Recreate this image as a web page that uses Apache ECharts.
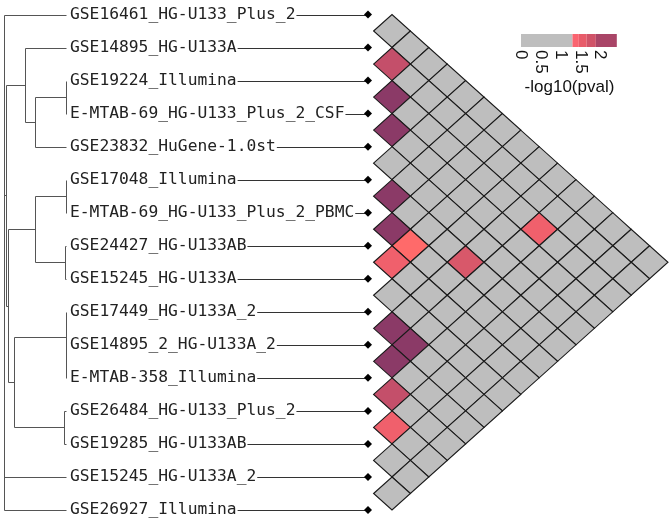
<!DOCTYPE html>
<html><head><meta charset="utf-8">
<script src="https://cdn.jsdelivr.net/npm/echarts@6/dist/echarts.min.js"></script>
<style>html,body{margin:0;padding:0;background:#fff}#c{width:672px;height:522px}</style>
</head><body><div id="c"></div>
<script>
// ---------------- data ----------------
const labels = [
  'GSE16461_HG-U133_Plus_2','GSE14895_HG-U133A','GSE19224_Illumina',
  'E-MTAB-69_HG-U133_Plus_2_CSF','GSE23832_HuGene-1.0st','GSE17048_Illumina',
  'E-MTAB-69_HG-U133_Plus_2_PBMC','GSE24427_HG-U133AB','GSE15245_HG-U133A',
  'GSE17449_HG-U133A_2','GSE14895_2_HG-U133A_2','E-MTAB-358_Illumina',
  'GSE26484_HG-U133_Plus_2','GSE19285_HG-U133AB','GSE15245_HG-U133A_2',
  'GSE26927_Illumina'
];
// dendrogram merges: [childA, childB, height]; leaves 1..16, internal nodes 'n'+index
const merges = [
  [3, 4, 0.0],          // n0
  ['n0', 5, 0.5],       // n1
  [2, 'n1', 0.66],      // n2
  [6, 7, 0.0],          // n3
  [8, 9, 0.02],         // n4
  ['n3', 'n4', 0.5],    // n5
  [11, 12, 0.0],        // n6
  [10, 'n6', 0.0],      // n7
  [13, 14, 0.03],       // n8
  ['n7', 'n8', 0.84],   // n9
  ['n5', 'n9', 0.935],  // n10
  ['n2', 'n10', 0.968]  // n11
];
const rootChildren = [1, 'n11', 15, 16];
const rootHeight = 1.0;

// -log10(pval), upper triangle: row i holds pairs (i, j) for j = i+1 .. 16
const pvalRows = [
  [0.5,0.5,0.5,0.5,0.5,0.5,0.5,0.5,0.5,0.5,0.5,0.5,0.5,0.5,0.5],
  [1.8,0.5,0.5,0.5,0.5,0.5,0.5,0.5,0.5,0.5,0.5,0.5,0.5,0.5],
  [2.3,0.5,0.5,0.5,0.5,0.5,0.5,0.5,1.4,0.5,0.5,0.5,0.5],
  [2.3,0.5,0.5,0.5,0.5,0.5,0.5,0.5,0.5,0.5,0.5,0.5],
  [0.5,0.5,0.5,0.5,0.5,0.5,0.5,0.5,0.5,0.5,0.5],
  [2.3,0.5,0.5,0.5,1.65,0.5,0.5,0.5,0.5,0.5],
  [2.3,1.35,0.5,0.5,0.5,0.5,0.5,0.5,0.5],
  [1.45,0.5,0.5,0.5,0.5,0.5,0.5,0.5],
  [0.5,0.5,0.5,0.5,0.5,0.5,0.5],
  [2.3,2.3,0.5,0.5,0.5,0.5],
  [2.3,0.5,0.5,0.5,0.5],
  [1.8,0.5,0.5,0.5],
  [1.45,0.5,0.5],
  [0.5,0.5],
  [0.5]
];
const cellBreaks = [1.3, 1.4, 1.5, 1.7, 1.9, 2.1];
const cellColors = ['#bebebe','#ff6a6a','#f0606c','#d8586a','#c44f6a','#a84468','#8b3a67'];

const legendBreaks = [0, 1.3, 1.46, 1.66, 1.89, 2.42];
const legendColors = ['#bebebe','#fa6470','#e85c6a','#d05368','#a94567'];
const legendTicks = [0, 0.5, 1, 1.5, 2];
const legendTitle = '-log10(pval)';

// ---------------- derived ----------------
const N = labels.length;
const nodes = {};
for (let i = 1; i <= N; i++) nodes[i] = {y: i, h: 0};
const dendroSegs = [];
merges.forEach((m, k) => {
  const a = nodes[m[0]], b = nodes[m[1]], h = m[2];
  dendroSegs.push([a.h, a.y, h, a.y]);
  dendroSegs.push([b.h, b.y, h, b.y]);
  dendroSegs.push([h, a.y, h, b.y]);
  nodes['n' + k] = {y: (a.y + b.y) / 2, h: h};
});
const rc = rootChildren.map(c => nodes[c]);
rc.forEach(c => dendroSegs.push([c.h, c.y, rootHeight, c.y]));
dendroSegs.push([rootHeight, Math.min(...rc.map(c => c.y)), rootHeight, Math.max(...rc.map(c => c.y))]);

const heatData = [];
pvalRows.forEach((row, r) => {
  const i = r + 1;
  row.forEach((v, c) => {
    const j = i + 1 + c;
    heatData.push([j - i, (i + j) / 2, v]);
  });
});
function cellColor(v) {
  let k = 0;
  while (k < cellBreaks.length && v >= cellBreaks[k]) k++;
  return cellColors[k];
}
const legendData = legendColors.map((c, k) => [legendBreaks[k], legendBreaks[k + 1], k]);

const labelFont = '16.3px "DejaVu Sans Mono"';
const mctx = document.createElement('canvas').getContext('2d');
mctx.font = labelFont;

const px = v => Math.round(v) + 0.5;

// ---------------- chart ----------------
const chart = echarts.init(document.getElementById('c'), null, {renderer: 'canvas'});
const rowTop = 14.5, rowH = 495.5;
const hiddenAxis = {show: false};
const option = {
  animation: false,
  grid: [
    {left: 4, top: rowTop, width: 62, height: rowH},          // dendrogram
    {left: 66, top: rowTop, width: 302, height: rowH},        // labels
    {left: 373.6, top: rowTop, width: 294.4, height: rowH},   // heatmap
    {left: 521, top: 34, width: 97, height: 13}               // legend bar
  ],
  xAxis: [
    Object.assign({gridIndex: 0, type: 'value', min: 0, max: 1, inverse: true}, hiddenAxis),
    Object.assign({gridIndex: 1, type: 'value', min: 0, max: 1}, hiddenAxis),
    Object.assign({gridIndex: 2, type: 'value', min: 0, max: 16}, hiddenAxis),
    {gridIndex: 3, type: 'value', min: 0, max: 2.45, interval: 0.5,
     axisLine: {show: false}, axisTick: {show: false}, splitLine: {show: false},
     axisLabel: {rotate: -90, margin: 3, fontFamily: 'Liberation Sans', fontSize: 17, color: '#111',
                 showMaxLabel: false, hideOverlap: false},
     name: legendTitle, nameLocation: 'middle', nameGap: 32,
     nameTextStyle: {fontFamily: 'Liberation Sans', fontSize: 17, color: '#111', verticalAlign: 'top'}}
  ],
  yAxis: [
    Object.assign({gridIndex: 0, type: 'value', min: 1, max: 16, inverse: true}, hiddenAxis),
    Object.assign({gridIndex: 1, type: 'value', min: 1, max: 16, inverse: true}, hiddenAxis),
    Object.assign({gridIndex: 2, type: 'value', min: 1, max: 16, inverse: true}, hiddenAxis),
    Object.assign({gridIndex: 3, type: 'value', min: 0, max: 1}, hiddenAxis)
  ],
  series: [
    { // dendrogram
      type: 'custom', xAxisIndex: 0, yAxisIndex: 0, clip: false,
      data: dendroSegs, encode: {x: [0, 2], y: [1, 3]},
      renderItem: (params, api) => {
        const a = api.coord([api.value(0), api.value(1)]);
        const b = api.coord([api.value(2), api.value(3)]);
        return {type: 'line', shape: {x1: px(a[0]), y1: px(a[1]), x2: px(b[0]), y2: px(b[1])},
                style: {stroke: '#555', lineWidth: 1}};
      }
    },
    { // labels, connectors, markers
      type: 'custom', xAxisIndex: 1, yAxisIndex: 1, clip: false,
      data: labels.map((l, i) => [0, i + 1, 1]), encode: {x: [0, 2], y: 1},
      renderItem: (params, api) => {
        const row = api.value(1);
        const p0 = api.coord([0, row]);
        const p1 = api.coord([1, row]);
        const txt = labels[params.dataIndex];
        const tx = p0[0] + 4;
        const tw = mctx.measureText(txt).width;
        const y = px(p1[1]);
        return {type: 'group', children: [
          {type: 'line', shape: {x1: tx + tw + 1, y1: y, x2: p1[0], y2: y}, style: {stroke: '#333', lineWidth: 1}},
          {type: 'polygon', shape: {points: [[p1[0] - 4, p1[1]], [p1[0], p1[1] - 4], [p1[0] + 4, p1[1]], [p1[0], p1[1] + 4]]},
           style: {fill: '#000'}},
          {type: 'text', style: {text: txt, x: tx, y: p1[1], font: labelFont, fill: '#222', verticalAlign: 'middle', align: 'left'}}
        ]};
      }
    },
    { // heatmap diamonds
      type: 'custom', xAxisIndex: 2, yAxisIndex: 2, clip: false,
      data: heatData, encode: {x: 0, y: 1},
      renderItem: (params, api) => {
        const d = api.value(0), m = api.value(1), v = api.value(2);
        const pts = [api.coord([d - 1, m]), api.coord([d, m - 0.5]), api.coord([d + 1, m]), api.coord([d, m + 0.5])];
        return {type: 'polygon', shape: {points: pts},
                style: {fill: cellColor(v), stroke: '#1a1a1a', lineWidth: 1.1}};
      }
    },
    { // legend color bar
      type: 'custom', xAxisIndex: 3, yAxisIndex: 3, clip: false,
      data: legendData, encode: {x: [0, 1]},
      renderItem: (params, api) => {
        const a = api.coord([api.value(0), 1]);
        const b = api.coord([api.value(1), 0]);
        return {type: 'rect', shape: {x: a[0], y: a[1], width: b[0] - a[0], height: b[1] - a[1]},
                style: {fill: legendColors[api.value(2)]}};
      }
    }
  ]
};
chart.setOption(option);
</script></body></html>
